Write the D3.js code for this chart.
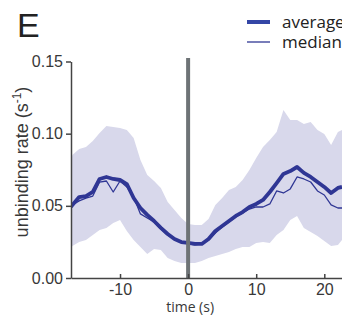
<!DOCTYPE html>
<html>
<head>
<meta charset="utf-8">
<script src="https://cdn.jsdelivr.net/npm/d3@7"></script>
<style>
  html, body { margin: 0; padding: 0; background: #fff; }
  svg { display: block; }
</style>
</head>
<body>
<svg id="chart" width="342" height="325"></svg>
<script>
// ---- data ----
const time = [-17.2,-17,-16,-15,-14,-13,-12,-11,-10,-9,-8,-7,-6,-5,-4,-3,-2,-1,0,1,2,3,4,5,6,7,8,9,10,11,12,13,14,15,16,17,18,19,20,21,22,22.6];
const average = [0.0492,0.0506,0.0561,0.0568,0.0596,0.0686,0.0700,0.0686,0.0679,0.0651,0.0554,0.0485,0.0437,0.0395,0.0347,0.0305,0.0270,0.0249,0.0243,0.0236,0.0236,0.0270,0.0326,0.0360,0.0395,0.0430,0.0457,0.0492,0.0513,0.0541,0.0596,0.0658,0.0721,0.0741,0.0769,0.0728,0.0700,0.0665,0.0631,0.0589,0.0624,0.0631];
const median = [0.0492,0.0506,0.0534,0.0554,0.0568,0.0665,0.0672,0.0596,0.0672,0.0631,0.0561,0.0444,0.0416,0.0388,0.0340,0.0298,0.0270,0.0249,0.0236,0.0229,0.0236,0.0263,0.0312,0.0353,0.0388,0.0423,0.0450,0.0478,0.0492,0.0492,0.0513,0.0603,0.0589,0.0617,0.0700,0.0686,0.0665,0.0603,0.0575,0.0506,0.0485,0.0485];
const upper = [0.0804,0.0852,0.0894,0.0908,0.0949,0.1005,0.1053,0.1046,0.1040,0.1026,0.0970,0.0818,0.0714,0.0672,0.0624,0.0527,0.0471,0.0416,0.0374,0.0367,0.0367,0.0409,0.0506,0.0554,0.0610,0.0631,0.0679,0.0748,0.0832,0.0908,0.0956,0.1012,0.1164,0.1095,0.1095,0.1067,0.1081,0.1026,0.0998,0.0922,0.1012,0.1026];
const lower = [0.0208,0.0222,0.0249,0.0263,0.0298,0.0333,0.0347,0.0381,0.0402,0.0326,0.0263,0.0215,0.0166,0.0201,0.0194,0.0139,0.0118,0.0104,0.0104,0.0104,0.0118,0.0139,0.0152,0.0166,0.0180,0.0201,0.0215,0.0215,0.0243,0.0249,0.0243,0.0298,0.0333,0.0402,0.0430,0.0347,0.0319,0.0291,0.0256,0.0222,0.0229,0.0263];
const xTicks = [-10, 0, 10, 20];
const yTicks = [0.00, 0.05, 0.10, 0.15];
const legendLabels = ["average", "median"];
const eventTime = 0;

// ---- layout ----
const svg = d3.select("#chart");
const x = d3.scaleLinear().domain([-17.2, 22.6]).range([71, 342]);
const y = d3.scaleLinear().domain([0, 0.15]).range([278, 61.5]);

const lineColor = "#2f3694";
const bandColor = "#d8d8eb";
const axisColor = "#444";
const textColor = "#383838";

const rows = time.map((t, i) => ({t, avg: average[i], med: median[i], hi: upper[i], lo: lower[i]}));

svg.append("defs").append("clipPath").attr("id", "plotclip")
  .append("rect").attr("x", 71).attr("y", 40).attr("width", 271).attr("height", 238);

const g = svg.append("g").attr("clip-path", "url(#plotclip)");

// band
g.append("path")
  .datum(rows)
  .attr("fill", bandColor)
  .attr("d", d3.area().x(d => x(d.t)).y0(d => y(d.lo)).y1(d => y(d.hi)));

// median
g.append("path")
  .datum(rows)
  .attr("fill", "none")
  .attr("stroke", lineColor)
  .attr("stroke-width", 1.3)
  .attr("stroke-linejoin", "round")
  .attr("d", d3.line().x(d => x(d.t)).y(d => y(d.med)));

// average
g.append("path")
  .datum(rows)
  .attr("fill", "none")
  .attr("stroke", lineColor)
  .attr("stroke-width", 3.8)
  .attr("stroke-linejoin", "round")
  .attr("d", d3.line().x(d => x(d.t)).y(d => y(d.avg)));

// event line at t = 0
svg.append("line")
  .attr("x1", x(eventTime)).attr("x2", x(eventTime))
  .attr("y1", 58).attr("y2", y(0))
  .attr("stroke", "#6e7376").attr("stroke-width", 4);

// y axis
const yAxis = svg.append("g").attr("transform", "translate(71,0)")
  .call(d3.axisLeft(y).tickValues(yTicks).tickFormat(d3.format(".2f")).tickSize(5).tickSizeOuter(0).tickPadding(3));
yAxis.select(".domain").attr("stroke", axisColor).attr("stroke-width", 1.5);
yAxis.selectAll(".tick line").attr("stroke", axisColor).attr("stroke-width", 1.5);
yAxis.selectAll(".tick text").attr("fill", textColor)
  .style("font-family", "'Liberation Sans', Arial, sans-serif").style("font-size", "16px");

// x axis (ticks pointing inward)
const xAxis = svg.append("g").attr("transform", `translate(0,${y(0)})`)
  .call(d3.axisBottom(x).tickValues(xTicks).tickFormat(d => String(d)).tickSize(-4).tickSizeOuter(0).tickPadding(6));
xAxis.select(".domain").attr("stroke", axisColor).attr("stroke-width", 1.5);
xAxis.selectAll(".tick line").attr("stroke", axisColor).attr("stroke-width", 1.5);
xAxis.selectAll(".tick text").attr("fill", textColor)
  .style("font-family", "'Liberation Sans', Arial, sans-serif").style("font-size", "16px");

// axis titles
svg.append("text")
  .attr("x", x(0) + 2).attr("y", 312)
  .attr("text-anchor", "middle")
  .attr("fill", textColor)
  .style("font-family", "'Open Sans', sans-serif").style("font-size", "14px")
  .text("time (s)");

const yl = svg.append("text")
  .attr("transform", "translate(28,162) rotate(-90)")
  .attr("text-anchor", "middle")
  .attr("fill", textColor)
  .style("font-family", "'Liberation Sans', Arial, sans-serif").style("font-size", "18px");
yl.append("tspan").text("unbinding rate (s");
yl.append("tspan").attr("dy", -7).style("font-size", "12px").text("-1");
yl.append("tspan").attr("dy", 7).text(")");

// panel letter
svg.append("text")
  .attr("x", 17).attr("y", 37)
  .attr("fill", "#222")
  .style("font-family", "'Liberation Sans', Arial, sans-serif").style("font-size", "34px")
  .text("E");

// legend
const legend = svg.append("g");
legendLabels.forEach((lab, i) => {
  const ly = 22 + i * 20;
  legend.append("line")
    .attr("x1", 247).attr("x2", 270).attr("y1", ly).attr("y2", ly)
    .attr("stroke", i === 0 ? "#3446a6" : lineColor)
    .attr("stroke-width", i === 0 ? 4 : 1.3);
  legend.append("text")
    .attr("x", 282).attr("y", ly + 6)
    .attr("fill", "#222")
    .style("font-family", "'Open Sans', sans-serif").style("font-size", "17px")
    .text(lab);
});
</script>
</body>
</html>
